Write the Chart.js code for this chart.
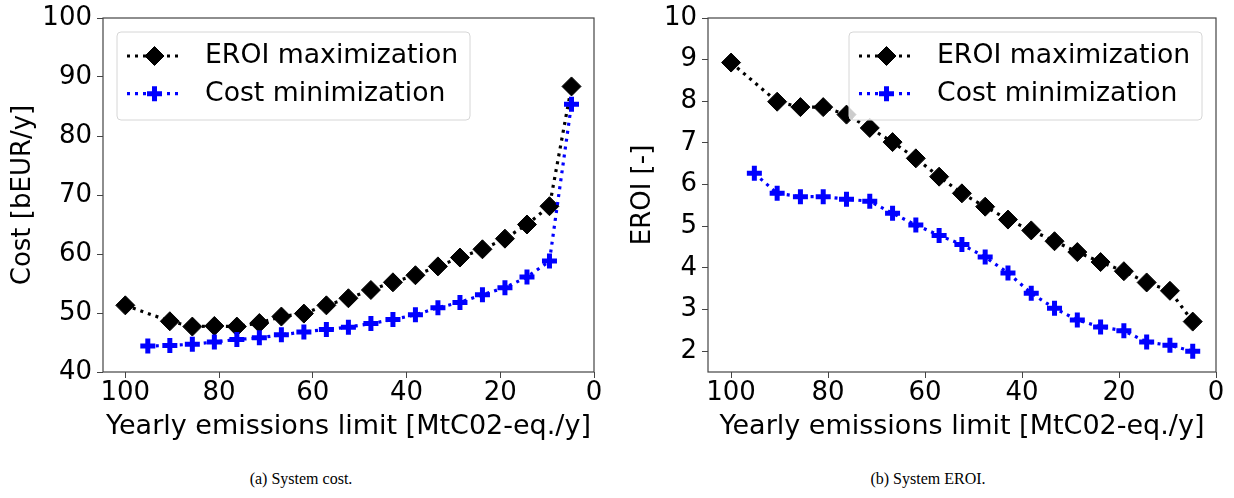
<!DOCTYPE html>
<html>
<head>
<meta charset="utf-8">
<script src="https://cdn.jsdelivr.net/npm/chart.js"></script>
<style>
  body { margin: 0; background: #fff; width: 1234px; height: 498px; position: relative; overflow: hidden; }
  canvas { position: absolute; top: 0; }
  #costChart { left: 0; }
  #eroiChart { left: 615px; }
  .caption { position: absolute; top: 470px; font-family: 'Liberation Serif', serif; font-size: 16px; color: #000; transform: translateX(-50%); white-space: nowrap; }
</style>
</head>
<body>
<canvas id="costChart" width="615" height="445"></canvas>
<canvas id="eroiChart" width="619" height="445"></canvas>
<div class="caption" style="left:301px">(a) System cost.</div>
<div class="caption" style="left:928px">(b) System EROI.</div>
<script>
// emission limits (x)
const limitsEroiMax = [100, 90.5, 85.7, 81.0, 76.2, 71.4, 66.7, 61.9, 57.1, 52.4, 47.6, 42.9, 38.1, 33.3, 28.6, 23.8, 19.0, 14.3, 9.5, 4.8];
const limitsCostMin = [95.2, 90.5, 85.7, 81.0, 76.2, 71.4, 66.7, 61.9, 57.1, 52.4, 47.6, 42.9, 38.1, 33.3, 28.6, 23.8, 19.0, 14.3, 9.5, 4.8];

// (a) system cost [bEUR/y]
const costEroiMax = [51.3, 48.6, 47.7, 47.8, 47.7, 48.3, 49.4, 49.9, 51.3, 52.5, 53.9, 55.2, 56.4, 57.9, 59.4, 60.8, 62.6, 65.0, 68.1, 88.4];
const costCostMin = [44.4, 44.5, 44.7, 45.1, 45.5, 45.8, 46.3, 46.8, 47.2, 47.6, 48.2, 48.9, 49.7, 50.9, 51.8, 53.1, 54.3, 56.1, 58.8, 85.4];

// (b) system EROI [-]
const eroiEroiMax = [8.93, 7.99, 7.86, 7.86, 7.68, 7.36, 7.02, 6.63, 6.19, 5.79, 5.47, 5.16, 4.90, 4.64, 4.38, 4.14, 3.92, 3.65, 3.45, 2.71];
const eroiCostMin = [6.27, 5.79, 5.71, 5.71, 5.65, 5.60, 5.31, 5.03, 4.78, 4.56, 4.26, 3.88, 3.39, 3.03, 2.75, 2.58, 2.49, 2.22, 2.14, 2.00];

const seriesLabels = ['EROI maximization', 'Cost minimization'];
const xTicks = [0, 20, 40, 60, 80, 100];
const costTicks = [40, 50, 60, 70, 80, 90, 100];
const eroiTicks = [2, 3, 4, 5, 6, 7, 8, 9, 10];

Chart.defaults.font.family = 'DejaVu Sans';
Chart.defaults.color = '#000';

const FONT = 26;
const DASH = [3, 5];

function toPoints(xs, ys) {
    return xs.map((x, i) => ({ x: x, y: ys[i] }));
}

function makeDatasets(eroiVals, costVals) {
    return [
        {
            label: seriesLabels[0],
            data: toPoints(limitsEroiMax, eroiVals),
            borderColor: '#000',
            backgroundColor: '#000',
            borderWidth: 3.2,
            borderDash: DASH,
            pointStyle: 'rectRot',
            pointRadius: 9.5,
            pointBorderWidth: 1,
            pointBackgroundColor: '#000',
            pointBorderColor: '#000',
            order: 1
        },
        {
            label: seriesLabels[1],
            data: toPoints(limitsCostMin, costVals),
            borderColor: '#0000ff',
            backgroundColor: '#0000ff',
            borderWidth: 3.2,
            borderDash: DASH,
            pointStyle: 'cross',
            pointRadius: 7.5,
            pointBorderWidth: 5,
            pointBackgroundColor: '#0000ff',
            pointBorderColor: '#0000ff',
            order: 0
        }
    ];
}

// box around the plot area + legend drawn inside it
const framePlugin = {
    id: 'frame',
    beforeDatasetsDraw(chart) {
        const { ctx, chartArea: a } = chart;
        ctx.save();
        ctx.strokeStyle = '#444';
        ctx.lineWidth = 1.2;
        ctx.strokeRect(a.left, a.top, a.right - a.left, a.bottom - a.top);
        ctx.restore();
    },
    afterDatasetsDraw(chart, args, opts) {
        const { ctx, chartArea: a } = chart;
        const w = 353, h = 88;
        const x0 = opts.side === 'left' ? a.left + 14 : a.right - 14 - w;
        const y0 = a.top + 14;
        ctx.save();
        ctx.beginPath();
        ctx.roundRect(x0, y0, w, h, 4);
        ctx.fillStyle = 'rgba(255,255,255,0.8)';
        ctx.fill();
        ctx.strokeStyle = '#d6d6d6';
        ctx.lineWidth = 1;
        ctx.stroke();

        chart.data.datasets.forEach((ds, row) => {
            const cy = y0 + 24 + row * 37.7;
            ctx.beginPath();
            ctx.setLineDash(DASH);
            ctx.lineWidth = ds.borderWidth;
            ctx.strokeStyle = ds.borderColor;
            ctx.moveTo(x0 + 10, cy);
            ctx.lineTo(x0 + 65, cy);
            ctx.stroke();
            ctx.setLineDash([]);
            ctx.fillStyle = ds.pointBackgroundColor;
            ctx.strokeStyle = ds.pointBorderColor;
            ctx.lineWidth = ds.pointBorderWidth;
            Chart.helpers.drawPoint(ctx, {
                pointStyle: ds.pointStyle,
                radius: ds.pointRadius,
                borderWidth: ds.pointBorderWidth,
                rotation: 0
            }, x0 + 37.5, cy);
            ctx.fillStyle = '#000';
            ctx.font = '26.7px "DejaVu Sans"';
            ctx.textBaseline = 'middle';
            ctx.textAlign = 'left';
            ctx.fillText(ds.label, x0 + 88, cy);
        });
        ctx.restore();
    }
};

function makeChart(canvasId, cfg) {
    return new Chart(document.getElementById(canvasId), {
        type: 'line',
        data: { datasets: makeDatasets(cfg.eroiVals, cfg.costVals) },
        options: {
            responsive: false,
            animation: false,
            events: [],
            layout: { padding: { top: 15, right: cfg.padRight, left: 0, bottom: 0 } },
            plugins: {
                legend: { display: false },
                tooltip: { enabled: false },
                frame: { side: cfg.legendSide }
            },
            scales: {
                x: {
                    type: 'linear',
                    reverse: true,
                    min: 0,
                    max: 104.76,
                    afterBuildTicks: s => { s.ticks = xTicks.map(v => ({ value: v })); },
                    afterFit: s => { s.height = 73; },
                    grid: { display: true, drawOnChartArea: false, drawTicks: true, tickLength: 6, tickColor: '#444' },
                    border: { display: false },
                    ticks: { font: { size: FONT, lineHeight: 1 }, padding: 2, maxRotation: 0, autoSkip: false },
                    title: {
                        display: true,
                        text: 'Yearly emissions limit [MtC02-eq./y]',
                        font: { size: 27 },
                        padding: { top: 0, bottom: 2 }
                    }
                },
                y: {
                    type: 'linear',
                    min: cfg.yMin,
                    max: cfg.yMax,
                    afterBuildTicks: s => { s.ticks = cfg.yTicks.map(v => ({ value: v })); },
                    afterFit: s => { s.width = cfg.yWidth; },
                    grid: { display: true, drawOnChartArea: false, drawTicks: true, tickLength: 6, tickColor: '#444' },
                    border: { display: false },
                    ticks: { font: { size: FONT, lineHeight: 1 }, padding: 5, autoSkip: false },
                    title: {
                        display: true,
                        text: cfg.yTitle,
                        font: { size: FONT },
                        padding: { top: cfg.yTitlePad, bottom: 0 }
                    }
                }
            }
        },
        plugins: [framePlugin]
    });
}

makeChart('costChart', {
    eroiVals: costEroiMax,
    costVals: costCostMin,
    yMin: 40, yMax: 100, yTicks: costTicks,
    yTitle: 'Cost [bEUR/y]',
    yWidth: 103, yTitlePad: 8, padRight: 21,
    legendSide: 'left'
});

makeChart('eroiChart', {
    eroiVals: eroiEroiMax,
    costVals: eroiCostMin,
    yMin: 1.5, yMax: 10, yTicks: eroiTicks,
    yTitle: 'EROI [-]',
    yWidth: 93, yTitlePad: 13, padRight: 18,
    legendSide: 'right'
});
</script>
</body>
</html>
